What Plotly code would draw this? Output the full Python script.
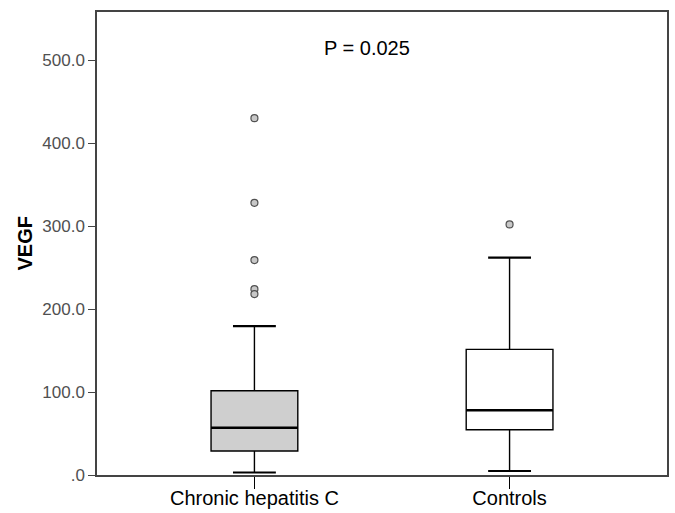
import plotly.graph_objects as go

categories = ["Chronic hepatitis C", "Controls"]
q1 = [29, 54.6]
median = [57, 78]
q3 = [101.5, 151.4]
lower_whisker = [3, 4.8]
upper_whisker = [179.5, 262]
outliers = [[430, 328, 259, 224, 218], [302]]
fills = ["#cfcfcf", "#ffffff"]
y_ticks = [0, 100, 200, 300, 400, 500]
y_tick_labels = [".0", "100.0", "200.0", "300.0", "400.0", "500.0"]
p_text = "P = 0.025"

BOX_HALF = 0.17
CAP_HALF = 0.084
FONT = "Liberation Sans, Arial, sans-serif"

fig = go.Figure()
for i, cat in enumerate(categories):
    fig.add_trace(go.Box(
        x=[i], q1=[q1[i]], median=[median[i]], q3=[q3[i]],
        lowerfence=[lower_whisker[i]], upperfence=[upper_whisker[i]],
        width=2 * BOX_HALF, fillcolor=fills[i],
        line=dict(color="#000000", width=1.4),
        boxpoints=False, whiskerwidth=0, hoverinfo="skip", showlegend=False,
    ))
    fig.add_trace(go.Scatter(
        x=[i - BOX_HALF, i + BOX_HALF], y=[median[i], median[i]], mode="lines",
        line=dict(color="#000000", width=2.6), showlegend=False, hoverinfo="skip"))
    for w in (lower_whisker[i], upper_whisker[i]):
        fig.add_trace(go.Scatter(
            x=[i - CAP_HALF, i + CAP_HALF], y=[w, w], mode="lines",
            line=dict(color="#000000", width=2.2), showlegend=False, hoverinfo="skip"))
    fig.add_trace(go.Scatter(
        x=[i] * len(outliers[i]), y=outliers[i], mode="markers",
        marker=dict(symbol="circle", size=7, color="#c8c8c8",
                    line=dict(color="#505050", width=1.2)),
        showlegend=False, hoverinfo="skip"))

fig.add_annotation(x=0.44, y=515, text=p_text, showarrow=False, xref="x", yref="y",
                   font=dict(family=FONT, size=20, color="#000000"))
fig.add_annotation(x=-73 / 570, y=0.5, xref="paper", yref="paper", text="<b>VEGF</b>",
                   textangle=-90, showarrow=False, xanchor="center", yanchor="middle",
                   font=dict(family=FONT, size=20, color="#000000"))

fig.update_layout(
    width=675, height=513,
    margin=dict(l=97, r=8, t=12, b=38),
    paper_bgcolor="white", plot_bgcolor="white",
    font=dict(family=FONT),
)
fig.update_xaxes(
    range=[-0.617, 1.617], tickvals=[0, 1], ticktext=categories,
    ticks="outside", ticklen=12, tickcolor="#000000", tickwidth=1.4,
    ticklabelstandoff=-8,
    tickfont=dict(family=FONT, size=20, color="#000000"),
    showline=True, linecolor="#444444", linewidth=1.5, mirror=True,
    showgrid=False, zeroline=False, automargin=False,
)
fig.update_yaxes(
    range=[0, 558], tickvals=y_ticks, ticktext=y_tick_labels,
    ticks="outside", ticklen=7, tickcolor="#444444", tickwidth=1.4,
    tickfont=dict(family=FONT, size=17, color="#505050"),
    showline=True, linecolor="#444444", linewidth=1.5, mirror=True,
    showgrid=False, zeroline=False, automargin=False,
)

fig.write_html("out.html")
